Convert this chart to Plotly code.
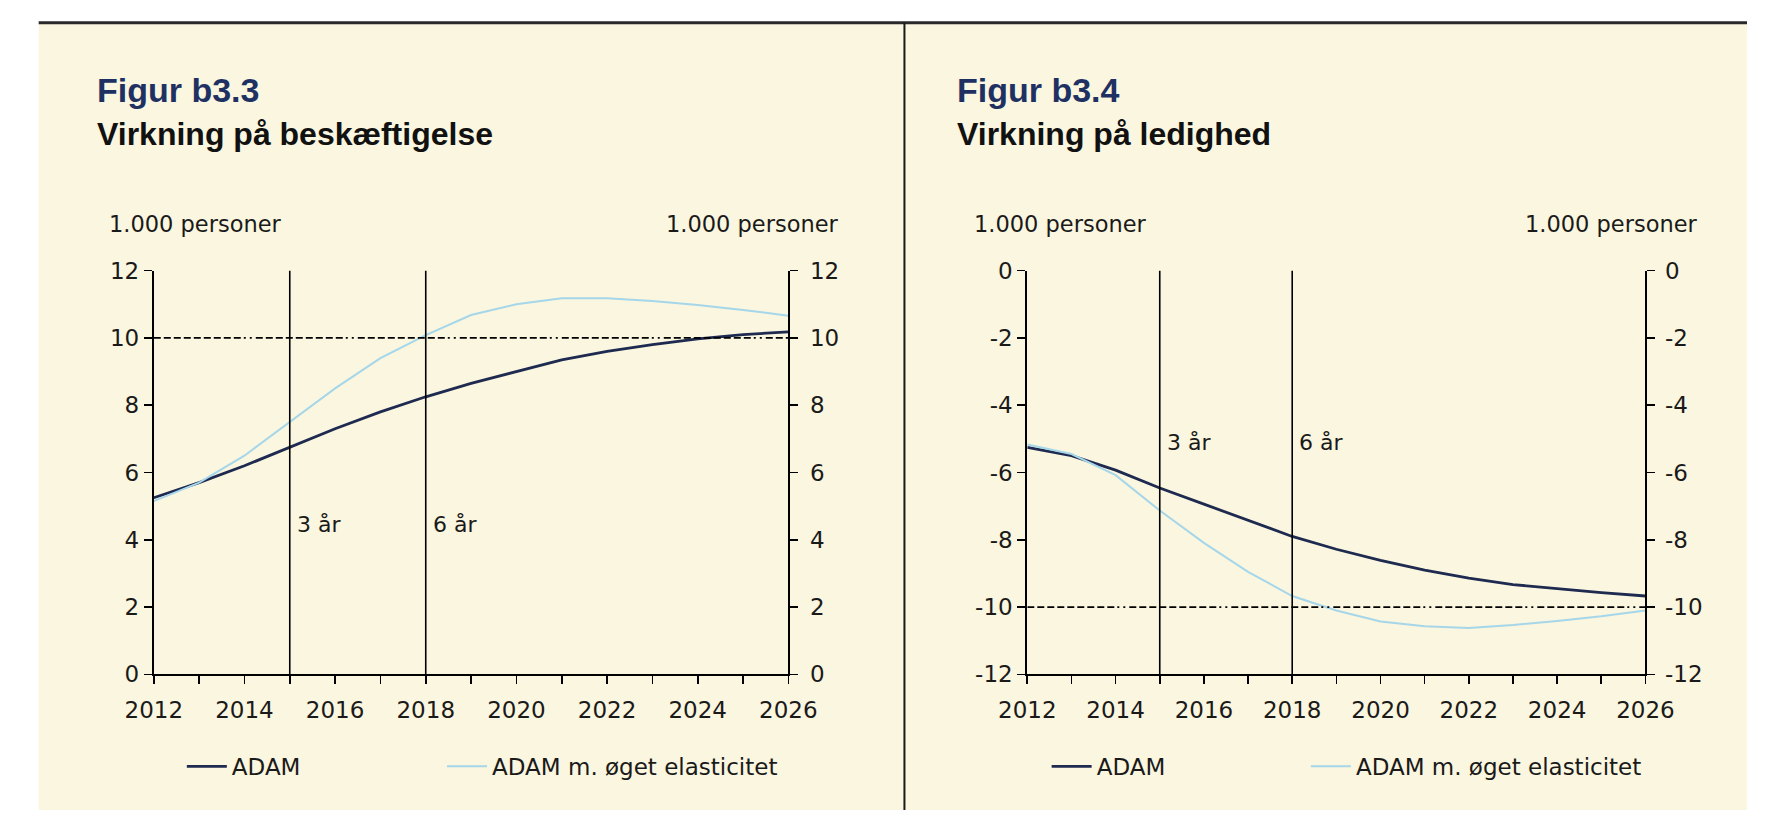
import plotly.graph_objects as go

# ---------------- data ----------------
years = list(range(2012, 2027))
year_labels = [str(y) if y % 2 == 0 else "" for y in years]

# Figur b3.3 - Virkning på beskæftigelse (1.000 personer)
emp_adam = [5.25, 5.70, 6.20, 6.75, 7.30, 7.80, 8.25, 8.65, 9.00, 9.35, 9.60, 9.80, 9.97, 10.10, 10.18]
emp_elast = [5.15, 5.70, 6.50, 7.50, 8.50, 9.40, 10.08, 10.68, 11.00, 11.18, 11.18, 11.10, 10.98, 10.83, 10.66]

# Figur b3.4 - Virkning på ledighed (1.000 personer)
unemp_adam = [-5.25, -5.50, -5.93, -6.46, -6.94, -7.42, -7.90, -8.28, -8.61, -8.90, -9.14, -9.33, -9.46, -9.57, -9.67]
unemp_elast = [-5.17, -5.45, -6.08, -7.13, -8.09, -8.95, -9.67, -10.10, -10.43, -10.57, -10.62, -10.53, -10.41, -10.27, -10.10]

emp_ticks = [0, 2, 4, 6, 8, 10, 12]
unemp_ticks = [-12, -10, -8, -6, -4, -2, 0]

marker_years = [2015, 2018]
marker_labels = ["3 år", "6 år"]
emp_range = [0, 12]
unemp_range = [-12, 0]
emp_ref = 10
unemp_ref = -10
emp_label_y = 4.45
unemp_label_y = -5.1

series_names = ["ADAM", "ADAM m. øget elasticitet"]
titles = ["Figur b3.3", "Figur b3.4"]
subtitles = ["Virkning på beskæftigelse", "Virkning på ledighed"]
unit_label = "1.000 personer"

# ---------------- style ----------------
W, H = 1776, 823
CREAM = "#FAF6DF"
DARK = "#1E2A50"
LIGHT = "#A6D6E9"
NAVY_TXT = "#1F3163"
FONT = "DejaVu Sans, Liberation Sans, sans-serif"
TFONT = "Liberation Sans, Arial, sans-serif"
TICK_FS = 23
TXT = "#1a1a1a"
DASH = ",".join(["7px,3px"] * 9 + ["2px,4px,2px,4px"])


def px_x(v):
    return v / W


def px_y(v):
    return 1 - v / H


fig = go.Figure()

panels = [
    dict(xa="x", ya="y", ya2="y2", adam=emp_adam, elast=emp_elast, rng=emp_range,
         ref=emp_ref, legends=["legend", "legend2"]),
    dict(xa="x3", ya="y3", ya2="y4", adam=unemp_adam, elast=unemp_elast, rng=unemp_range,
         ref=unemp_ref, legends=["legend3", "legend4"]),
]

for p in panels:
    fig.add_trace(go.Scatter(x=years, y=p["adam"], mode="lines", name=series_names[0],
                             line=dict(color=DARK, width=2.8), xaxis=p["xa"], yaxis=p["ya"],
                             legend=p["legends"][0], hoverinfo="skip"))
    fig.add_trace(go.Scatter(x=years, y=p["elast"], mode="lines", name=series_names[1],
                             line=dict(color=LIGHT, width=2), xaxis=p["xa"], yaxis=p["ya"],
                             legend=p["legends"][1], hoverinfo="skip"))
    for yr in marker_years:
        fig.add_trace(go.Scatter(x=[yr, yr], y=p["rng"], mode="lines", showlegend=False,
                                 line=dict(color="black", width=1.6), xaxis=p["xa"], yaxis=p["ya"],
                                 hoverinfo="skip"))
    fig.add_trace(go.Scatter(x=[years[0], years[-1]], y=[p["ref"], p["ref"]], mode="lines",
                             showlegend=False, line=dict(color="black", width=1.6, dash=DASH),
                             xaxis=p["xa"], yaxis=p["ya"], hoverinfo="skip"))
    # invisible trace to activate the right-hand axis
    fig.add_trace(go.Scatter(x=years, y=p["adam"], mode="lines", showlegend=False, opacity=0,
                             line=dict(width=0), xaxis=p["xa"], yaxis=p["ya2"], hoverinfo="skip"))

# ---------------- axes ----------------
left_dom_x = [px_x(129), px_x(785)]
right_dom_x = [px_x(1032), px_x(1671)]
dom_y = [px_y(683), px_y(266)]

xcommon = dict(range=[years[0], years[-1]], tickvals=years, ticktext=year_labels, ticks="outside",
               ticklen=8, tickwidth=1.6, tickcolor="black", showline=True, linecolor="black",
               linewidth=2, showgrid=False, zeroline=False, ticklabelstandoff=6,
               tickfont=dict(family=FONT, size=TICK_FS, color=TXT), fixedrange=True)
ycommon = dict(ticks="outside", ticklen=8, tickwidth=1.6, tickcolor="black",
               showline=True, linecolor="black", linewidth=2, showgrid=False, zeroline=False,
               tickfont=dict(family=FONT, size=TICK_FS, color=TXT), fixedrange=True)

emp_tick = dict(tickvals=emp_ticks, ticktext=[str(v) for v in emp_ticks])
unemp_tick = dict(tickvals=unemp_ticks, ticktext=[str(v) for v in unemp_ticks])

fig.update_layout(
    xaxis=dict(domain=left_dom_x, anchor="y", **xcommon),
    yaxis=dict(domain=dom_y, anchor="x", range=emp_range, **emp_tick, **ycommon),
    yaxis2=dict(overlaying="y", side="right", anchor="x", range=emp_range, ticklabelstandoff=7,
                **emp_tick, **ycommon),
    xaxis3=dict(domain=right_dom_x, anchor="y3", **xcommon),
    yaxis3=dict(domain=dom_y, anchor="x3", range=unemp_range, **unemp_tick, **ycommon),
    yaxis4=dict(overlaying="y3", side="right", anchor="x3", range=unemp_range, ticklabelstandoff=5,
                **unemp_tick, **ycommon),
)

# ---------------- annotations ----------------
ann = []
title_x = [68, 957]
unit_left_x = [81, 975]
unit_right_x = [839, 1727]
xa_names = ["x", "x3"]
ya_names = ["y", "y3"]
lab_ys = [emp_label_y, unemp_label_y]
for i in range(2):
    ann.append(dict(text=f"<b>{titles[i]}</b>", x=px_x(title_x[i]), y=px_y(80), xref="paper", yref="paper",
                    xanchor="left", yanchor="middle", showarrow=False,
                    font=dict(family=TFONT, size=34, color=NAVY_TXT)))
    ann.append(dict(text=f"<b>{subtitles[i]}</b>", x=px_x(title_x[i]), y=px_y(125), xref="paper", yref="paper",
                    xanchor="left", yanchor="middle", showarrow=False,
                    font=dict(family=TFONT, size=32, color="#111111")))
    ann.append(dict(text=unit_label, x=px_x(unit_left_x[i]), y=px_y(218), xref="paper", yref="paper",
                    xanchor="left", yanchor="middle", showarrow=False,
                    font=dict(family=FONT, size=22.5, color=TXT)))
    ann.append(dict(text=unit_label, x=px_x(unit_right_x[i]), y=px_y(218), xref="paper", yref="paper",
                    xanchor="right", yanchor="middle", showarrow=False,
                    font=dict(family=FONT, size=22.5, color=TXT)))
    for yr, lab in zip(marker_years, marker_labels):
        ann.append(dict(text=lab, x=yr, y=lab_ys[i], xref=xa_names[i], yref=ya_names[i],
                        xanchor="left", yanchor="middle", xshift=5, showarrow=False,
                        font=dict(family=FONT, size=22, color=TXT)))

# ---------------- page decoration ----------------
shapes = [
    dict(type="rect", xref="paper", yref="paper", x0=px_x(10), x1=1, y0=0, y1=px_y(10),
         fillcolor=CREAM, line=dict(width=0), layer="below"),
    dict(type="line", xref="paper", yref="paper", x0=px_x(10), x1=1, y0=px_y(10), y1=px_y(10),
         line=dict(color="#2a2a2a", width=3)),
    dict(type="line", xref="paper", yref="paper", x0=px_x(905), x1=px_x(905), y0=0, y1=px_y(10),
         line=dict(color="#1a1a1a", width=2)),
]

legend_common = dict(orientation="h", xanchor="left", yanchor="middle", bgcolor="rgba(0,0,0,0)",
                     font=dict(family=FONT, size=TICK_FS, color=TXT), itemwidth=40, borderwidth=0)
legend_x = [158, 427, 1052, 1320]

fig.update_layout(
    width=W, height=H, autosize=False,
    margin=dict(l=0, r=0, t=0, b=0, pad=0),
    paper_bgcolor="white", plot_bgcolor="rgba(0,0,0,0)",
    annotations=ann, shapes=shapes,
    legend=dict(x=px_x(legend_x[0]), y=px_y(778), **legend_common),
    legend2=dict(x=px_x(legend_x[1]), y=px_y(778), **legend_common),
    legend3=dict(x=px_x(legend_x[2]), y=px_y(778), **legend_common),
    legend4=dict(x=px_x(legend_x[3]), y=px_y(778), **legend_common),
    font=dict(family=FONT),
)

fig.write_html(
    "out.html",
    config={"displayModeBar": False, "staticPlot": True},
    post_script=(
        "document.body.style.margin='0';"
        "document.documentElement.style.overflow='hidden';"
        "document.body.style.overflow='hidden';"
    ),
)
